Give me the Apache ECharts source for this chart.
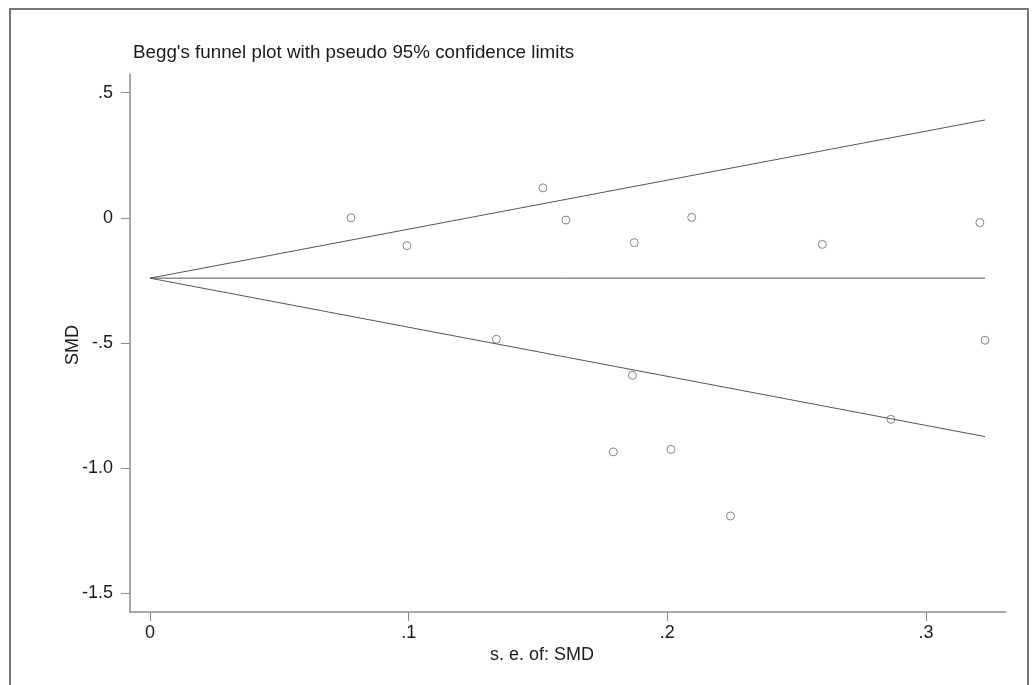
<!DOCTYPE html>
<html>
<head>
<meta charset="utf-8">
<script src="https://cdn.jsdelivr.net/npm/echarts@6/dist/echarts.min.js"></script>
<style>
html,body{margin:0;padding:0;background:#fff;}
#chart{width:1034px;height:685px;}
</style>
</head>
<body>
<div id="chart"></div>
<script>
// Study standard errors and standardized mean differences
const seValues  = [0.0777, 0.0993, 0.1339, 0.1519, 0.1608, 0.1872, 0.1865, 0.1791, 0.2014, 0.2094, 0.2244, 0.2599, 0.2864, 0.3208, 0.3228];
const smdValues = [0.000, -0.111, -0.485, 0.120, -0.009, -0.099, -0.629, -0.935, -0.925, 0.002, -1.191, -0.106, -0.805, -0.019, -0.489];
// Pooled estimate and pseudo 95% confidence limits (line endpoints)
const funnelSE    = [0, 0.3228];
const pooledLine  = [-0.241, -0.241];
const upperLimit  = [-0.241, 0.391];
const lowerLimit  = [-0.241, -0.874];
// Tick values and labels
const xTicks = [0, 0.1, 0.2, 0.3];
const xTickLabels = ['0', '.1', '.2', '.3'];
const yTicks = [0.5, 0, -0.5, -1.0, -1.5];
const yTickLabels = ['.5', '0', '-.5', '-1.0', '-1.5'];

const titleText = "Begg's funnel plot with pseudo 95% confidence limits";
const xName = 's. e. of: SMD';
const yName = 'SMD';

const FONT = '"Liberation Sans", Arial, sans-serif';
const TXT = '#1a1a1a';
const AXC = '#8a8a8a';

function fmt(vals, labels){
  return function(v){
    for (let i=0;i<vals.length;i++){ if (Math.abs(vals[i]-v) < 1e-6) return labels[i]; }
    return '';
  };
}
const pts = seValues.map((s,i)=>[s, smdValues[i]]);
const mk = (ys)=> funnelSE.map((s,i)=>[s, ys[i]]);

const chart = echarts.init(document.getElementById('chart'), null, {renderer:'canvas'});
chart.setOption({
  backgroundColor:'#fff',
  animation:false,
  grid:{left:130, right:28, top:74, bottom:73, containLabel:false},
  xAxis:{
    type:'value', min:-0.00773, max:0.3309,
    axisLine:{show:true, onZero:false, lineStyle:{color:AXC, width:1.5}},
    axisTick:{show:true, length:9, customValues:xTicks, lineStyle:{color:AXC, width:1}},
    axisLabel:{customValues:xTicks, formatter:fmt(xTicks,xTickLabels), color:TXT, fontSize:18, fontFamily:FONT, margin:12},
    splitLine:{show:false}
  },
  yAxis:{
    type:'value', min:-1.5747, max:0.5747,
    axisLine:{show:true, onZero:false, lineStyle:{color:AXC, width:1.5}},
    axisTick:{show:true, length:9, customValues:yTicks, lineStyle:{color:AXC, width:1}},
    axisLabel:{customValues:yTicks, formatter:fmt(yTicks,yTickLabels), color:TXT, fontSize:18, fontFamily:FONT, margin:17},
    splitLine:{show:false}
  },
  graphic:[
    {type:'rect', shape:{x:10, y:9, width:1018, height:700}, style:{fill:'none', stroke:'#777', lineWidth:2}, silent:true},
    {type:'text', x:133, y:53, style:{text:titleText, fill:TXT, font:'18.8px '+FONT, textAlign:'left', textVerticalAlign:'middle'}},
    {type:'text', x:542, y:655, style:{text:xName, fill:TXT, font:'18px '+FONT, textAlign:'center', textVerticalAlign:'middle'}},
    {type:'text', x:73, y:345, rotation:Math.PI/2, style:{text:yName, fill:TXT, font:'18px '+FONT, textAlign:'center', textVerticalAlign:'middle'}}
  ],
  series:[
    {type:'line', data:mk(pooledLine), symbol:'none', lineStyle:{color:'#555', width:1}, silent:true},
    {type:'line', data:mk(upperLimit), symbol:'none', lineStyle:{color:'#555', width:1}, silent:true},
    {type:'line', data:mk(lowerLimit), symbol:'none', lineStyle:{color:'#555', width:1}, silent:true},
    {type:'scatter', data:pts, symbol:'circle', symbolSize:8, itemStyle:{color:'#fff', borderColor:'#666', borderWidth:1}}
  ]
});
</script>
</body>
</html>
